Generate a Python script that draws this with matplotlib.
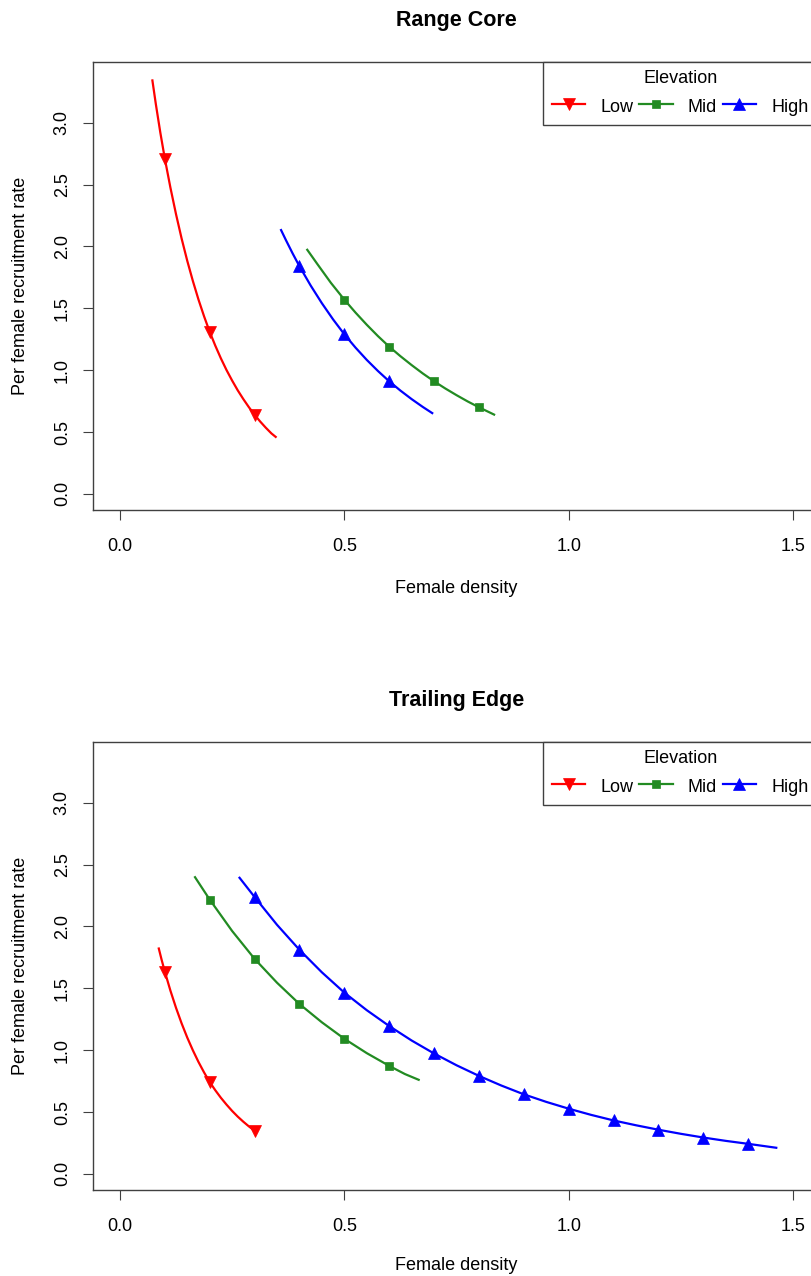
import matplotlib.pyplot as plt
from matplotlib.lines import Line2D

plt.rcParams['font.family'] = ['Liberation Sans', 'DejaVu Sans']

# Range Core: curvas (densidad, tasa)
core_low_x = [0.072, 0.08, 0.09, 0.1, 0.1125, 0.125, 0.1375, 0.15, 0.1625, 0.175, 0.1875, 0.2,
              0.2125, 0.225, 0.2375, 0.25, 0.2625, 0.275, 0.2875, 0.3, 0.3125, 0.325, 0.3375, 0.349]
core_low_y = [3.35, 3.15, 2.92, 2.71, 2.475, 2.26, 2.063, 1.884, 1.721, 1.571, 1.435, 1.31,
              1.198, 1.095, 1.001, 0.916, 0.837, 0.766, 0.700, 0.64, 0.585, 0.535, 0.489, 0.455]
core_low_mx = [0.1, 0.2, 0.3]
core_low_my = [2.71, 1.31, 0.64]

core_mid_x = [0.416, 0.44, 0.47, 0.5, 0.525, 0.55, 0.575, 0.6, 0.625, 0.65, 0.675, 0.7,
              0.725, 0.75, 0.775, 0.8, 0.836]
core_mid_y = [1.98, 1.857, 1.706, 1.57, 1.465, 1.367, 1.275, 1.19, 1.113, 1.041, 0.973, 0.91,
              0.852, 0.798, 0.747, 0.70, 0.637]
core_mid_mx = [0.5, 0.6, 0.7, 0.8]
core_mid_my = [1.57, 1.19, 0.91, 0.70]

core_high_x = [0.358, 0.37, 0.385, 0.4, 0.425, 0.45, 0.475, 0.5, 0.525, 0.55, 0.575, 0.6,
               0.625, 0.65, 0.675, 0.698]
core_high_y = [2.14, 2.05, 1.942, 1.84, 1.684, 1.541, 1.41, 1.29, 1.182, 1.083, 0.993, 0.91,
               0.835, 0.766, 0.7025, 0.648]
core_high_mx = [0.4, 0.5, 0.6]
core_high_my = [1.84, 1.29, 0.91]

# Trailing Edge
edge_low_x = [0.086, 0.093, 0.1, 0.1125, 0.125, 0.1375, 0.15, 0.1625, 0.175, 0.1875, 0.2,
              0.2125, 0.225, 0.2375, 0.25, 0.2625, 0.275, 0.2875, 0.3]
edge_low_y = [1.83, 1.729, 1.635, 1.481, 1.342, 1.216, 1.102, 0.999, 0.905, 0.820, 0.743,
              0.676, 0.615, 0.560, 0.509, 0.463, 0.4216, 0.3836, 0.349]
edge_low_mx = [0.1, 0.2, 0.3]
edge_low_my = [1.635, 0.743, 0.349]

edge_mid_x = [0.166, 0.2, 0.25, 0.3, 0.35, 0.4, 0.45, 0.5, 0.55, 0.6, 0.635, 0.668]
edge_mid_y = [2.405, 2.217, 1.963, 1.738, 1.545, 1.373, 1.225, 1.092, 0.976, 0.873, 0.807, 0.757]
edge_mid_mx = [0.2, 0.3, 0.4, 0.5, 0.6]
edge_mid_my = [2.217, 1.738, 1.373, 1.092, 0.873]

edge_high_x = [0.265, 0.3, 0.35, 0.4, 0.45, 0.5, 0.55, 0.6, 0.65, 0.7, 0.75, 0.8, 0.85,
               0.9, 0.95, 1.0, 1.05, 1.1, 1.15, 1.2, 1.25, 1.3, 1.35, 1.4, 1.465]
edge_high_y = [2.40, 2.238, 2.013, 1.811, 1.629, 1.465, 1.323, 1.195, 1.078, 0.973, 0.878, 0.792, 0.714,
               0.643, 0.582, 0.527, 0.477, 0.432, 0.393, 0.357, 0.324, 0.294, 0.267, 0.243, 0.21]
edge_high_mx = [0.3, 0.4, 0.5, 0.6, 0.7, 0.8, 0.9, 1.0, 1.1, 1.2, 1.3, 1.4]
edge_high_my = [2.238, 1.811, 1.465, 1.195, 0.973, 0.792, 0.643, 0.527, 0.432, 0.357, 0.294, 0.243]

elevations = ["Low", "Mid", "High"]
colors = {"Low": "#FF0000", "Mid": "#228B22", "High": "#0000FF"}
markers = {"Low": "v", "Mid": "s", "High": "^"}
msizes = {"Low": 8.6, "Mid": 6.0, "High": 8.6}

panels = {
    "Range Core": {
        "Low": (core_low_x, core_low_y, core_low_mx, core_low_my),
        "Mid": (core_mid_x, core_mid_y, core_mid_mx, core_mid_my),
        "High": (core_high_x, core_high_y, core_high_mx, core_high_my),
    },
    "Trailing Edge": {
        "Low": (edge_low_x, edge_low_y, edge_low_mx, edge_low_my),
        "Mid": (edge_mid_x, edge_mid_y, edge_mid_mx, edge_mid_my),
        "High": (edge_high_x, edge_high_y, edge_high_mx, edge_high_my),
    },
}

W, H = 812, 1276
fig = plt.figure(figsize=(W / 100, H / 100), dpi=100)

# posiciones en pixeles; el eje sigue mas alla del borde derecho (como en la captura)
tops = [62, 742]
xlab_off = [79, 75]
ax_h = 448
left, right = 93, 820
axis_col = "#404040"

for (title, series), top, xoff in zip(panels.items(), tops, xlab_off):
    ax = fig.add_axes([left / W, 1 - (top + ax_h) / H, (right - left) / W, ax_h / H])

    for elev in elevations:
        x, y, mx, my = series[elev]
        ax.plot(x, y, color=colors[elev], lw=1.6, solid_capstyle="butt")
        ax.plot(mx, my, ls="none", marker=markers[elev], ms=msizes[elev],
                color=colors[elev], mec=colors[elev], mew=0.5)

    ax.set_xlim(-0.06, 1.56)
    ax.set_ylim(-0.13, 3.49)
    ax.set_xticks([0.0, 0.5, 1.0, 1.5])
    ax.set_xticklabels(["0.0", "0.5", "1.0", "1.5"])
    ax.set_yticks([0.0, 0.5, 1.0, 1.5, 2.0, 2.5, 3.0])
    ax.set_yticklabels(["0.0", "0.5", "1.0", "1.5", "2.0", "2.5", "3.0"])
    ax.tick_params(direction="out", length=7, width=0.8, color=axis_col, labelsize=13)
    ax.tick_params(axis="x", pad=13)
    ax.tick_params(axis="y", pad=9)
    plt.setp(ax.get_yticklabels(), rotation=90, va="center")
    for sp in ax.spines.values():
        sp.set_color(axis_col)
        sp.set_linewidth(1.0)

    ax.set_title(title, fontsize=15.5, fontweight="bold", y=1 + 41 / ax_h, pad=0, va="center")
    ax.set_xlabel("Female density", fontsize=13)
    ax.xaxis.set_label_coords(0.5, -xoff / ax_h)
    ax.xaxis.label.set_va("center")
    ax.set_ylabel("Per female recruitment rate", fontsize=13)
    ax.yaxis.set_label_coords(-72 / (right - left), 0.5)
    ax.yaxis.label.set_va("center")

    handles = [Line2D([], [], color=colors[e], lw=1.6, marker=markers[e],
                      ms=msizes[e], mew=0.5) for e in elevations]
    leg = ax.legend(handles, elevations, title="Elevation", ncol=3, loc="upper right",
                    bbox_to_anchor=(1 - 3 / (right - left), 1), borderaxespad=0,
                    fontsize=13, title_fontsize=13, fancybox=False, framealpha=1,
                    edgecolor=axis_col, handlelength=1.85, handletextpad=0.85,
                    columnspacing=0.3, borderpad=0.47, labelspacing=0.47,
                    handleheight=1.4, numpoints=1)
    leg.get_frame().set_linewidth(1.0)

plt.savefig("out.png", dpi=100)
